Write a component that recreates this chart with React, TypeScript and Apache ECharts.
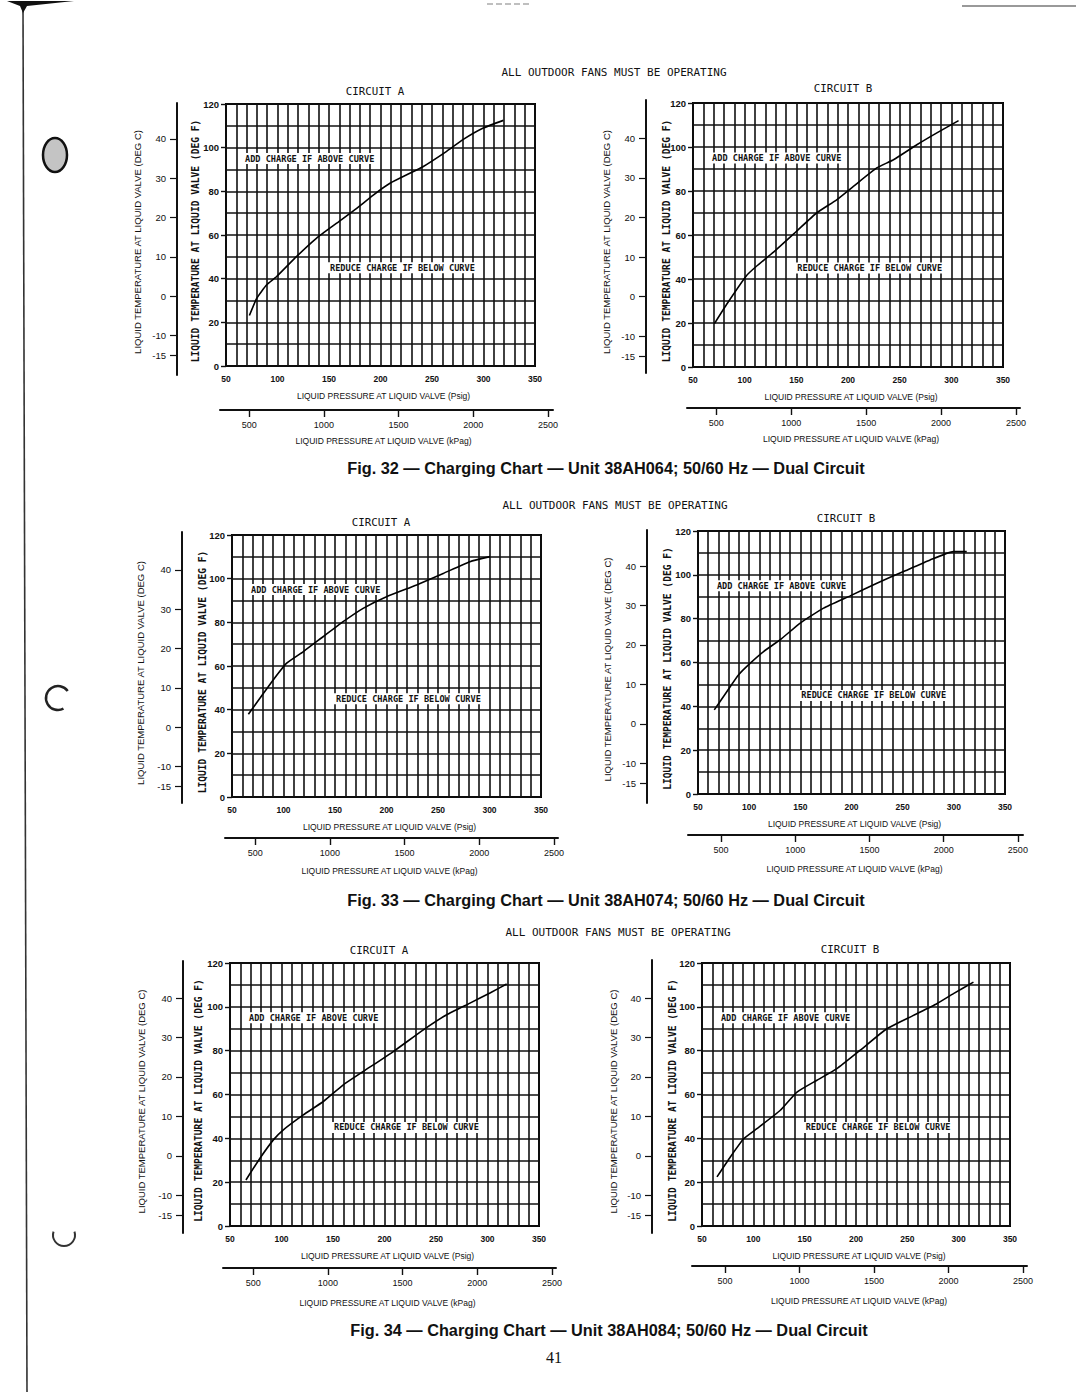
import React, { useEffect, useRef } from 'react';
import * as echarts from 'echarts';

// ---------------- DATA ----------------
const FIGURE_TITLES = [
  'Fig. 32 — Charging Chart — Unit 38AH064; 50/60 Hz — Dual Circuit',
  'Fig. 33 — Charging Chart — Unit 38AH074; 50/60 Hz — Dual Circuit',
  'Fig. 34 — Charging Chart — Unit 38AH084; 50/60 Hz — Dual Circuit',
];
const FANS_NOTE = 'ALL OUTDOOR FANS MUST BE OPERATING';
const CIRCUIT_NAMES = ['CIRCUIT A', 'CIRCUIT B'];
const ADD_TEXT = 'ADD CHARGE IF ABOVE CURVE';
const REDUCE_TEXT = 'REDUCE CHARGE IF BELOW CURVE';
const Y_NAME_F = 'LIQUID TEMPERATURE AT LIQUID VALVE (DEG F)';
const Y_NAME_C = 'LIQUID TEMPERATURE AT LIQUID VALVE (DEG C)';
const X_NAME_PSIG = 'LIQUID PRESSURE AT LIQUID VALVE (Psig)';
const X_NAME_KPAG = 'LIQUID PRESSURE AT LIQUID VALVE (kPag)';
const PAGE_NUMBER = '41';

const DEGC_TICKS = [40, 30, 20, 10, 0, -10, -15];
const KPAG_TICKS = [500, 1000, 1500, 2000, 2500];
const PSIG_MIN = 50;
const PSIG_MAX = 350;
const DEGF_MIN = 0;
const DEGF_MAX = 120;

// Fig. 32 — 38AH064
const FIG32_A_PSIG = [72.7, 79.8, 89.5, 99.2, 118.6, 138, 157.4, 176.9, 193, 209.2, 241.6, 264.2, 280.4, 299.8, 319.3];
const FIG32_A_DEGF = [23.1, 31, 37.2, 41, 50.2, 58.6, 65.4, 72.2, 78.3, 83.7, 91.4, 98.3, 103.8, 109, 112.5];
const FIG32_B_PSIG = [70.7, 82.3, 101.7, 111.4, 127.6, 150.2, 169.6, 189, 205.2, 227.8, 244, 266.6, 286, 307];
const FIG32_B_DEGF = [19.7, 28.3, 41.5, 45.8, 52.1, 61.7, 70, 76, 82.1, 90.5, 94.2, 101, 106.4, 112];
// Fig. 33 — 38AH074
const FIG33_A_PSIG = [65.9, 76.9, 89.8, 102.8, 119, 138.4, 157.9, 177.3, 200, 229.2, 255.1, 281, 300.5];
const FIG33_A_DEGF = [37.9, 45.1, 53.5, 61.2, 66.5, 73.4, 80.3, 86.4, 91.7, 97.1, 102.4, 107.8, 110.1];
const FIG33_B_PSIG = [65.9, 78.3, 89.7, 101.1, 114.1, 130.4, 149.9, 172.7, 198.7, 224.8, 250.8, 276.8, 299.6, 312.6];
const FIG33_B_DEGF = [38.4, 46.8, 54.4, 59.7, 65, 70.4, 78, 84.8, 90.4, 96.2, 101.5, 106.8, 110.6, 110.6];
// Fig. 34 — 38AH084
const FIG34_A_PSIG = [65.5, 79.1, 92.1, 101.8, 121.2, 140.6, 160, 179.4, 208.6, 237.7, 260.4, 283, 302.4, 318.6];
const FIG34_A_DEGF = [21, 30.9, 39.3, 43.9, 50.7, 56.8, 64.4, 70.5, 79.6, 89.5, 96.4, 101.7, 106.3, 110.4];
const FIG34_B_PSIG = [64.6, 77.6, 90.6, 103.5, 126.3, 142.5, 162, 181.4, 204.1, 230, 256, 278.7, 294.9, 314.4];
const FIG34_B_DEGF = [22.4, 31.5, 39.8, 44.4, 52.8, 61.1, 66.5, 71.8, 80.2, 90, 96.1, 101.4, 106, 111.3];

const CURVES = [
  [FIG32_A_PSIG, FIG32_A_DEGF],
  [FIG32_B_PSIG, FIG32_B_DEGF],
  [FIG33_A_PSIG, FIG33_A_DEGF],
  [FIG33_B_PSIG, FIG33_B_DEGF],
  [FIG34_A_PSIG, FIG34_A_DEGF],
  [FIG34_B_PSIG, FIG34_B_DEGF],
];

// annotation anchors in data units (psig, degF)
const ADD_AT = [66.5, 95];
const REDUCE_AT = [149, 45];
const KPA_PER_PSI = 6.895;

// ---------------- LAYOUT (pixels) ----------------
const LAYOUT = [
  { L: 226, R: 535, T: 104, B: 366, cX: 177, cTop: 103, cBot: 375, cNameX: 137, fNameX: 195, kY: 410, kL: 220, kR: 553, kNameY: 441, circX: 375, circY: 91 },
  { L: 693, R: 1003, T: 103, B: 367, cX: 646, cTop: 100, cBot: 373, cNameX: 606, fNameX: 666, kY: 408, kL: 687, kR: 1020, kNameY: 439, circX: 843, circY: 88 },
  { L: 232, R: 541, T: 535, B: 797, cX: 182, cTop: 532, cBot: 803, cNameX: 140, fNameX: 202, kY: 838, kL: 225, kR: 558, kNameY: 871, circX: 381, circY: 522 },
  { L: 698, R: 1005, T: 531, B: 794, cX: 647, cTop: 530, cBot: 803, cNameX: 607, fNameX: 667, kY: 835, kL: 688, kR: 1023, kNameY: 869, circX: 846, circY: 518 },
  { L: 230, R: 539, T: 963, B: 1226, cX: 183, cTop: 961, cBot: 1233, cNameX: 141, fNameX: 198, kY: 1268, kL: 223, kR: 556, kNameY: 1303, circX: 379, circY: 950 },
  { L: 702, R: 1010, T: 963, B: 1226, cX: 652, cTop: 960, cBot: 1233, cNameX: 613, fNameX: 672, kY: 1266, kL: 692, kR: 1027, kNameY: 1301, circX: 850, circY: 949 },
];
const TITLE_POS = [[606, 468], [606, 900], [609, 1330]];
const FANS_POS = [[614, 72], [615, 505], [618, 932]];

const SANS = '"Liberation Sans", Arial, Helvetica, sans-serif';
const MONO = '"DejaVu Sans Mono", "Liberation Mono", monospace';
const INK = '#111';

function txt(x: number, y: number, text: string, font: string, extra: any = {}) {
  return {
    type: 'text',
    x,
    y,
    rotation: extra.rotation || 0,
    z: extra.z || 10,
    style: {
      text,
      font,
      fill: extra.fill || INK,
      align: extra.align || 'center',
      verticalAlign: 'middle',
      textAlign: extra.align || 'center',
      textVerticalAlign: 'middle',
      backgroundColor: extra.bg,
      padding: extra.padding,
    },
  };
}

function buildOption() {
  const grid: any[] = [];
  const xAxis: any[] = [];
  const yAxis: any[] = [];
  const series: any[] = [];
  const graphic: any[] = [];

  LAYOUT.forEach((g, i) => {
    const W = g.R - g.L;
    const H = g.B - g.T;
    const pxPsig = (v: number) => g.L + ((v - PSIG_MIN) / (PSIG_MAX - PSIG_MIN)) * W;
    const pxF = (v: number) => g.B - ((v - DEGF_MIN) / (DEGF_MAX - DEGF_MIN)) * H;

    // --- main plot grid
    const gi = grid.length;
    grid.push({ left: g.L, top: g.T, width: W, height: H, show: true, borderColor: '#000', borderWidth: 2, backgroundColor: 'transparent', outerBoundsMode: 'none' });
    const xi = xAxis.length;
    xAxis.push({
      type: 'value', gridIndex: gi, min: PSIG_MIN, max: PSIG_MAX, interval: 10, position: 'bottom',
      axisLine: { show: false }, axisTick: { show: false },
      splitLine: { show: true, lineStyle: { color: INK, width: 1.6 } },
      axisLabel: {
        show: true, margin: 8, fontSize: 8.5, fontWeight: 'bold', color: INK, fontFamily: SANS,
        formatter: (v: number) => (v % 50 === 0 ? String(v) : ''),
      },
    });
    const yi = yAxis.length;
    yAxis.push({
      type: 'value', gridIndex: gi, min: DEGF_MIN, max: DEGF_MAX, interval: 10, position: 'left',
      axisLine: { show: false }, axisTick: { show: false }, axisLabel: { show: false },
      splitLine: { show: true, lineStyle: { color: INK, width: 1.6 } },
    });
    yAxis.push({
      type: 'value', gridIndex: gi, min: DEGF_MIN, max: DEGF_MAX, interval: 20, position: 'left', offset: 0,
      axisLine: { show: false },
      axisTick: { show: true, length: 5, lineStyle: { color: INK, width: 1.4 } },
      splitLine: { show: false },
      axisLabel: { show: true, margin: 7, fontSize: 9.5, fontWeight: 'bold', color: INK, fontFamily: SANS, formatter: (v: number) => String(v) },
    });
    const [px, pf] = CURVES[i];
    series.push({
      type: 'line', xAxisIndex: xi, yAxisIndex: yi, data: px.map((v, k) => [v, pf[k]]),
      showSymbol: false, symbol: 'none', smooth: 0.15,
      lineStyle: { color: '#000', width: 1.6 }, z: 5, silent: true,
    });

    // --- deg C axis
    const cGi = grid.length;
    const fAt = (py: number) => ((g.B - py) / H) * (DEGF_MAX - DEGF_MIN) + DEGF_MIN;
    const cMax = (fAt(g.cTop) - 32) / 1.8;
    const cMin = (fAt(g.cBot) - 32) / 1.8;
    grid.push({ left: g.cX, top: g.cTop, width: 1, height: g.cBot - g.cTop, show: false, outerBoundsMode: 'none' });
    xAxis.push({ type: 'value', gridIndex: cGi, show: false, min: 0, max: 1 });
    yAxis.push({
      type: 'value', gridIndex: cGi, min: cMin, max: cMax, position: 'left',
      axisLine: { show: true, lineStyle: { color: INK, width: 2 } },
      axisTick: { show: true, length: 7, customValues: DEGC_TICKS, lineStyle: { color: INK, width: 1.2 } },
      splitLine: { show: false },
      axisLabel: { show: true, margin: 11, fontSize: 9.5, color: INK, fontFamily: SANS, customValues: DEGC_TICKS, formatter: (v: number) => String(v) },
    });

    // --- kPag axis
    const kGi = grid.length;
    const psigAt = (pxv: number) => PSIG_MIN + ((pxv - g.L) / W) * (PSIG_MAX - PSIG_MIN);
    const kMin = psigAt(g.kL) * KPA_PER_PSI;
    const kMax = psigAt(g.kR) * KPA_PER_PSI;
    grid.push({ left: g.kL, top: g.kY - 1, width: g.kR - g.kL, height: 1, show: false, outerBoundsMode: 'none' });
    yAxis.push({ type: 'value', gridIndex: kGi, show: false, min: 0, max: 1 });
    xAxis.push({
      type: 'value', gridIndex: kGi, min: kMin, max: kMax, position: 'bottom',
      axisLine: { show: true, lineStyle: { color: INK, width: 2 } },
      axisTick: { show: true, length: 7, customValues: KPAG_TICKS, lineStyle: { color: INK, width: 1.4 } },
      splitLine: { show: false },
      axisLabel: { show: true, margin: 10, fontSize: 9, color: INK, fontFamily: SANS, customValues: KPAG_TICKS, formatter: (v: number) => String(v) },
    });

    // --- texts
    graphic.push(txt(g.fNameX, (g.T + g.B) / 2 + 6, Y_NAME_F, `bold 9.6px ${MONO}`, { rotation: Math.PI / 2 }));
    graphic.push(txt(g.cNameX, (g.T + g.B) / 2 + 7, Y_NAME_C, `9.5px ${SANS}`, { rotation: Math.PI / 2 }));
    graphic.push(txt((g.L + g.R) / 2 + 3, g.B + 30, X_NAME_PSIG, `8.5px ${SANS}`));
    graphic.push(txt((g.L + g.R) / 2 + 3, g.kNameY, X_NAME_KPAG, `8.5px ${SANS}`));
    graphic.push(txt(g.circX, g.circY, CIRCUIT_NAMES[i % 2], `10.8px ${MONO}`));
    graphic.push(txt(pxPsig(ADD_AT[0]), pxF(ADD_AT[1]), ADD_TEXT, `bold 8.6px ${MONO}`, { align: 'left', bg: '#fff', padding: [1, 2, 1, 2], z: 20 }));
    graphic.push(txt(pxPsig(REDUCE_AT[0]), pxF(REDUCE_AT[1]), REDUCE_TEXT, `bold 8.6px ${MONO}`, { align: 'left', bg: '#fff', padding: [1, 2, 1, 2], z: 20 }));
  });

  FIGURE_TITLES.forEach((t, i) => {
    graphic.push(txt(TITLE_POS[i][0], TITLE_POS[i][1], t, `bold 16.3px ${SANS}`));
    graphic.push(txt(FANS_POS[i][0], FANS_POS[i][1], FANS_NOTE, `11px ${MONO}`));
  });
  graphic.push(txt(554, 1357, PAGE_NUMBER, `16px "Liberation Serif", "Times New Roman", serif`));

  // scan / page-edge artefacts
  graphic.push({ type: 'line', shape: { x1: 23, y1: 8, x2: 27, y2: 1392 }, style: { stroke: '#333', lineWidth: 1.6 } });
  graphic.push({ type: 'polygon', shape: { points: [[7, 1], [74, 1], [27, 6], [23, 13], [20, 6]] }, style: { fill: '#111' } });
  graphic.push({ type: 'line', shape: { x1: 487, y1: 4, x2: 530, y2: 4 }, style: { stroke: '#aaa', lineWidth: 1.5, lineDash: [6, 3] } });
  graphic.push({ type: 'line', shape: { x1: 962, y1: 6, x2: 1076, y2: 6 }, style: { stroke: '#777', lineWidth: 1.5 } });
  graphic.push({ type: 'ellipse', shape: { cx: 55, cy: 155, rx: 12, ry: 17 }, style: { fill: '#c4c4c4', stroke: '#111', lineWidth: 2.5 } });
  graphic.push({ type: 'arc', shape: { cx: 58, cy: 698, r: 12, startAngle: Math.PI * 0.35, endAngle: Math.PI * 1.8 }, style: { stroke: '#222', lineWidth: 2.5, fill: 'none' } });
  graphic.push({ type: 'arc', shape: { cx: 64, cy: 1235, r: 11, startAngle: -Math.PI * 0.1, endAngle: Math.PI * 1.1 }, style: { stroke: '#333', lineWidth: 2, fill: 'none' } });

  return {
    animation: false,
    backgroundColor: '#fff',
    grid,
    xAxis,
    yAxis,
    series,
    graphic,
  };
}

export default function App() {
  const ref = useRef<HTMLDivElement>(null);
  useEffect(() => {
    document.body.style.margin = '0';
    if (!ref.current) return;
    const chart = echarts.init(ref.current, null, { renderer: 'svg' });
    chart.setOption(buildOption() as any);
    return () => chart.dispose();
  }, []);
  return <div ref={ref} style={{ width: 1080, height: 1397 }} />;
}
